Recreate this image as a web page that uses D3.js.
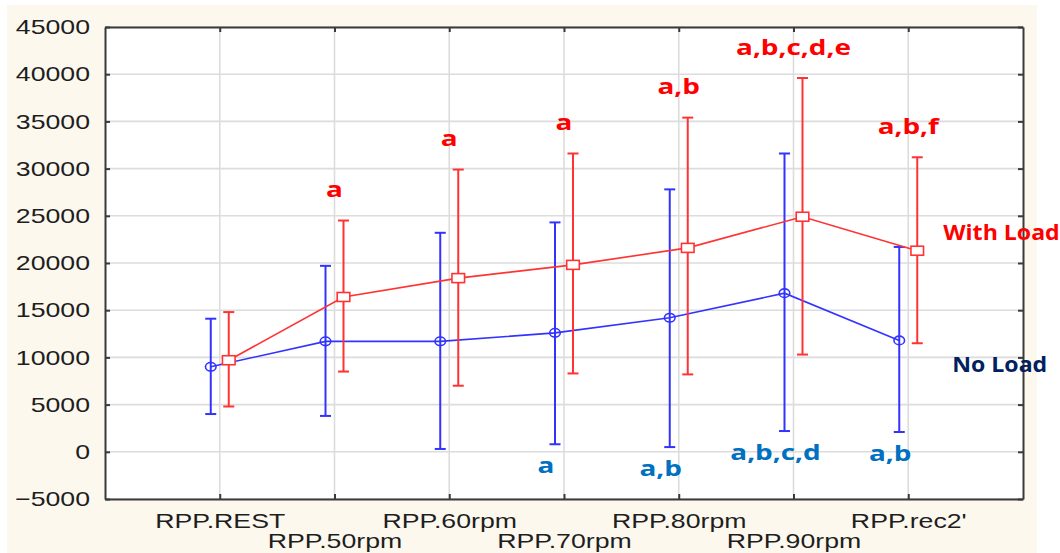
<!DOCTYPE html>
<html>
<head>
<meta charset="utf-8">
<script src="https://cdn.jsdelivr.net/npm/d3@7"></script>
<style>
  body { margin: 0; background: #fff; }
  svg { display: block; }
</style>
</head>
<body>
<div id="chart"></div>
<script>
// RPP with / without load, mean with error bars

const categories = ["RPP.REST", "RPP.50rpm", "RPP.60rpm", "RPP.70rpm", "RPP.80rpm", "RPP.90rpm", "RPP.rec2'"];
const yTicks = [-5000, 0, 5000, 10000, 15000, 20000, 25000, 30000, 35000, 40000, 45000];

// No Load (blue): mean, lower, upper
const noLoadMean  = [9000, 11700, 11700, 12600, 14200, 16800, 11800];
const noLoadLow   = [4000, 3800, 300, 800, 500, 2200, 2100];
const noLoadHigh  = [14100, 19700, 23200, 24300, 27800, 31600, 21700];
const noLoadNotes = ["", "", "", "a", "a,b", "a,b,c,d", "a,b"];

// With Load (red): mean, lower, upper
const loadMean  = [9700, 16400, 18400, 19800, 21600, 24900, 21300];
const loadLow   = [4800, 8500, 7000, 8300, 8200, 10300, 11500];
const loadHigh  = [14800, 24500, 29900, 31600, 35400, 39600, 31200];
const loadNotes = ["", "a", "a", "a", "a,b", "a,b,c,d,e", "a,b,f"];

const seriesNames = ["With Load", "No Load"];

const width = 1060,
    height = 553,
    margin = ({ top: 27, right: 37, bottom: 54, left: 105 });

const stretch = 1.27; // the reference is stretched horizontally
const blue = "#3333ff", red = "#ff3333";

const svg = d3.select("#chart")
    .append("svg")
    .attr("width", width)
    .attr("height", height)
    .attr("viewBox", [0, 0, width, height]);

// cream background and white plot area
svg.append("rect")
    .attr("x", 7).attr("y", 5)
    .attr("width", 1030).attr("height", height - 5)
    .attr("fill", "#fcf8ee");

svg.append("rect")
    .attr("x", margin.left).attr("y", margin.top)
    .attr("width", width - margin.left - margin.right)
    .attr("height", height - margin.top - margin.bottom)
    .attr("fill", "#fff");

let x = d3.scalePoint()
    .domain(categories)
    .range([margin.left, width - margin.right])
    .padding(1);

let y = d3.scaleLinear()
    .domain([-5000, 45000])
    .range([height - margin.bottom, margin.top]);

// grid
svg.append("g")
    .selectAll("line")
    .data(yTicks)
    .join("line")
    .attr("x1", margin.left).attr("x2", width - margin.right)
    .attr("y1", d => y(d)).attr("y2", d => y(d))
    .attr("stroke", "#dcdcdc")
    .attr("stroke-width", 1.6);

svg.append("g")
    .selectAll("line")
    .data(categories)
    .join("line")
    .attr("x1", d => x(d)).attr("x2", d => x(d))
    .attr("y1", margin.top).attr("y2", height - margin.bottom)
    .attr("stroke", "#dcdcdc")
    .attr("stroke-width", 1.6);

// axes (ticks point inward)
const axisColor = "#3a3a3a";

const yAxis = svg.append("g")
    .attr("transform", `translate(${margin.left},0)`)
    .call(d3.axisLeft(y).tickValues(yTicks).tickFormat(d3.format("d"))
        .tickSize(-5).tickSizeOuter(0).tickPadding(15));

yAxis.selectAll("text")
    .attr("x", -15 / stretch)
    .attr("transform", `scale(${stretch},1)`);

const xAxis = svg.append("g")
    .attr("transform", `translate(0,${height - margin.bottom})`)
    .call(d3.axisBottom(x).tickSize(-5).tickSizeOuter(0));

// labels alternate between two rows
xAxis.selectAll("text")
    .attr("y", (d, i) => i % 2 ? 49.5 : 29.5)
    .attr("dy", 0)
    .attr("transform", `scale(${stretch},1)`);

svg.append("g")
    .attr("transform", `translate(${width - margin.right},0)`)
    .call(d3.axisRight(y).tickValues(yTicks).tickSize(-5).tickSizeOuter(0).tickFormat(""));

svg.append("g")
    .attr("transform", `translate(0,${margin.top})`)
    .call(d3.axisTop(x).tickSize(-5).tickSizeOuter(0).tickFormat(""));

svg.selectAll(".domain, .tick line")
    .attr("stroke", axisColor)
    .attr("stroke-width", 2);

svg.selectAll(".tick text")
    .attr("font-family", "'Liberation Sans', Arial, sans-serif")
    .attr("font-size", 21)
    .attr("fill", "#1e1e1e");

// series
function drawSeries(mean, low, high, color, offset) {
    const data = categories.map((c, i) => ({ c, m: mean[i], lo: low[i], hi: high[i] }));
    const px = d => x(d.c) + offset;
    const g = svg.append("g");

    g.selectAll(".bar")
        .data(data)
        .join("line")
        .attr("x1", px).attr("x2", px)
        .attr("y1", d => y(d.lo)).attr("y2", d => y(d.hi))
        .attr("stroke", color)
        .attr("stroke-width", 2);

    for (const key of ["lo", "hi"]) {
        g.selectAll(".cap-" + key)
            .data(data)
            .join("line")
            .attr("x1", d => px(d) - 5.5).attr("x2", d => px(d) + 5.5)
            .attr("y1", d => y(d[key])).attr("y2", d => y(d[key]))
            .attr("stroke", color)
            .attr("stroke-width", 2);
    }

    let line = d3.line()
        .x(px)
        .y(d => y(d.m));

    g.append("path")
        .datum(data)
        .attr("d", line)
        .attr("fill", "none")
        .attr("stroke", color)
        .attr("stroke-width", 1.6);

    return { g, data, px };
}

const nl = drawSeries(noLoadMean, noLoadLow, noLoadHigh, blue, -9);
nl.g.selectAll("ellipse")
    .data(nl.data)
    .join("ellipse")
    .attr("cx", nl.px)
    .attr("cy", d => y(d.m))
    .attr("rx", 5.3).attr("ry", 4.3)
    .attr("fill", "none")
    .attr("stroke", blue)
    .attr("stroke-width", 1.6);

const wl = drawSeries(loadMean, loadLow, loadHigh, red, 9);
wl.g.selectAll("rect")
    .data(wl.data)
    .join("rect")
    .attr("x", d => wl.px(d) - 6.3)
    .attr("y", d => y(d.m) - 4.5)
    .attr("width", 12.6).attr("height", 9)
    .attr("fill", "#fff")
    .attr("stroke", red)
    .attr("stroke-width", 1.6);

// significance letters
function notes(labels, anchorY, color, dx, dy) {
    svg.append("g")
        .selectAll("text")
        .data(categories.map((c, i) => ({ c, t: labels[i], v: anchorY[i] })).filter(d => d.t))
        .join("text")
        .attr("transform", d => `translate(${x(d.c) + dx},${y(d.v) + dy}) scale(${stretch},1)`)
        .attr("text-anchor", "middle")
        .attr("dominant-baseline", "central")
        .attr("font-family", "'Open Sans', sans-serif")
        .attr("font-weight", "bold")
        .attr("font-size", 22)
        .attr("fill", color)
        .text(d => d.t);
}

notes(loadNotes, loadHigh, "#ff0000", 0, -32);
notes(noLoadNotes, noLoadLow, "#0070c0", -18, 20);

// series names beside the last points
const last = categories.length - 1;
svg.append("text")
    .attr("transform", `translate(${x(categories[last]) + 35},${y(loadMean[last]) - 19}) scale(1.1,1)`)
    .attr("dominant-baseline", "central")
    .attr("font-family", "'Open Sans', sans-serif")
    .attr("font-weight", "bold")
    .attr("font-size", 21)
    .attr("fill", "#ff0000")
    .text(seriesNames[0]);

svg.append("text")
    .attr("transform", `translate(${x(categories[last]) + 44},${y(noLoadMean[last]) + 23}) scale(1.1,1)`)
    .attr("dominant-baseline", "central")
    .attr("font-family", "'Open Sans', sans-serif")
    .attr("font-weight", "bold")
    .attr("font-size", 21)
    .attr("fill", "#002060")
    .text(seriesNames[1]);
</script>
</body>
</html>
